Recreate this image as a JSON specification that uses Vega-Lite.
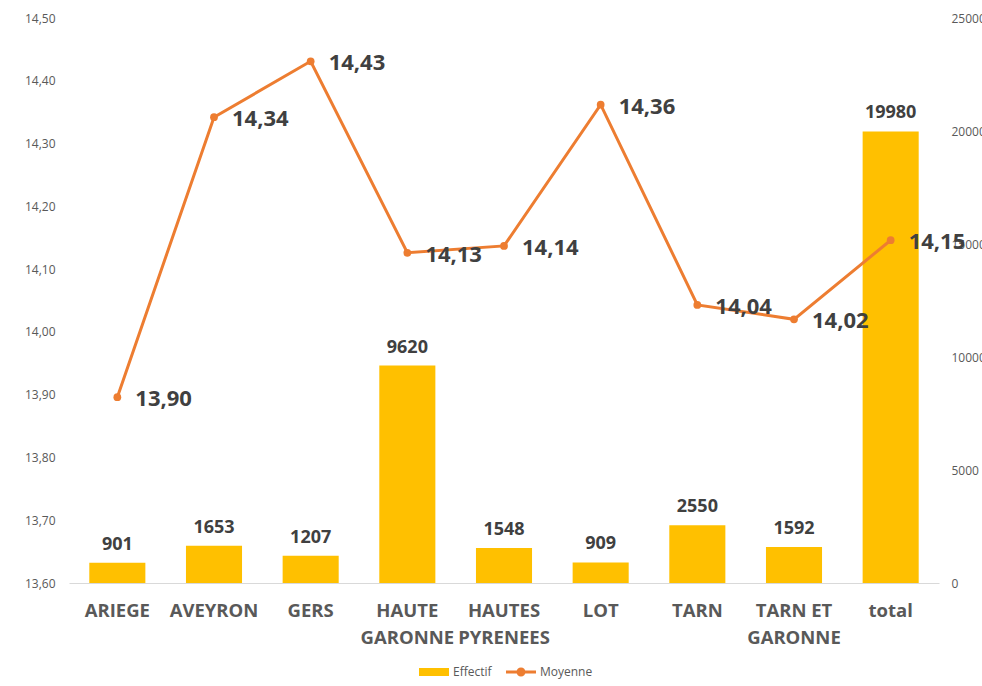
{
  "$schema": "https://vega.github.io/schema/vega-lite/v6.json",
  "width": 870,
  "height": 565,
  "autosize": {"type": "none"},
  "padding": {"left": 69, "top": 18, "right": 43, "bottom": 103},
  "background": "white",
  "config": {
    "view": {"stroke": null},
    "font": "Open Sans",
    "locale": {"number": {"decimal": ",", "thousands": " ", "grouping": [3], "currency": ["", " €"]}}
  },
  "data": {
    "values": [
      {"dep": "ARIEGE", "effectif": 901, "moyenne": 13.896},
      {"dep": "AVEYRON", "effectif": 1653, "moyenne": 14.342},
      {"dep": "GERS", "effectif": 1207, "moyenne": 14.431},
      {"dep": "HAUTE GARONNE", "effectif": 9620, "moyenne": 14.126},
      {"dep": "HAUTES PYRENEES", "effectif": 1548, "moyenne": 14.137},
      {"dep": "LOT", "effectif": 909, "moyenne": 14.362},
      {"dep": "TARN", "effectif": 2550, "moyenne": 14.043},
      {"dep": "TARN ET GARONNE", "effectif": 1592, "moyenne": 14.02},
      {"dep": "total", "effectif": 19980, "moyenne": 14.146}
    ]
  },
  "encoding": {
    "x": {
      "field": "dep",
      "type": "nominal",
      "sort": null,
      "scale": {"paddingInner": 0.42, "paddingOuter": 0.21},
      "axis": {
        "title": null,
        "labelAngle": 0,
        "ticks": false,
        "grid": false,
        "domainColor": "#D9D9D9",
        "domainWidth": 1,
        "labelPadding": 18,
        "labelFont": "Open Sans",
        "labelFontSize": 18.5,
        "labelFontWeight": "bold",
        "labelColor": "#595959",
        "labelLineHeight": 27,
        "labelExpr": "datum.value == 'HAUTE GARONNE' ? ['HAUTE', 'GARONNE'] : datum.value == 'HAUTES PYRENEES' ? ['HAUTES', 'PYRENEES'] : datum.value == 'TARN ET GARONNE' ? ['TARN ET', 'GARONNE'] : datum.value"
      }
    }
  },
  "layer": [
    {
      "encoding": {
        "y": {
          "field": "effectif",
          "type": "quantitative",
          "scale": {"domain": [0, 25000], "nice": false},
          "axis": {
            "orient": "right",
            "title": null,
            "values": [0, 5000, 10000, 15000, 20000, 25000],
            "format": "d",
            "domain": false,
            "ticks": false,
            "grid": false,
            "labelPadding": 12,
            "labelFontSize": 12,
            "labelColor": "#595959"
          }
        }
      },
      "layer": [
        {
          "mark": {"type": "bar"},
          "encoding": {
            "color": {
              "datum": "Effectif",
              "type": "nominal",
              "scale": {"domain": ["Effectif", "Moyenne"], "range": ["#FFC000", "#ED7D31"]},
              "legend": {
                "title": null,
                "orient": "none",
                "direction": "horizontal",
                "legendX": 359,
                "legendY": 648,
                "symbolSize": 100,
                "labelOffset": 13,
                "columnPadding": 14,
                "labelFontSize": 12,
                "labelColor": "#595959",
                "labelFont": "Open Sans",
                "encode": {
                  "symbols": {
                    "update": {
                      "shape": [
                        {"test": "datum.value == 'Effectif'", "value": "M-3,-0.8H3V0.8H-3Z"},
                        {"value": "M-3,-0.3H3V0.3H-3Z M0.9,0A0.9,0.9 0 1,1 -0.9,0A0.9,0.9 0 1,1 0.9,0Z"}
                      ],
                      "fill": [
                        {"test": "datum.value == 'Effectif'", "value": "#FFC000"},
                        {"value": "#ED7D31"}
                      ],
                      "stroke": {"value": "transparent"},
                      "strokeWidth": {"value": 0},
                      "opacity": {"value": 1},
                      "fillOpacity": {"value": 1}
                    }
                  }
                }
              }
            }
          }
        },
        {
          "mark": {"type": "text", "baseline": "alphabetic", "dy": -13, "font": "Open Sans", "fontSize": 18, "fontWeight": "bold", "color": "#404040"},
          "encoding": {"text": {"field": "effectif", "type": "quantitative", "format": "d"}}
        }
      ]
    },
    {
      "encoding": {
        "y": {
          "field": "moyenne",
          "type": "quantitative",
          "scale": {"domain": [13.6, 14.5], "nice": false, "zero": false},
          "axis": {
            "orient": "left",
            "title": null,
            "values": [13.6, 13.7, 13.8, 13.9, 14.0, 14.1, 14.2, 14.3, 14.4, 14.5],
            "format": ".2f",
            "domain": false,
            "ticks": false,
            "grid": false,
            "labelPadding": 14,
            "labelFontSize": 12,
            "labelColor": "#595959"
          }
        }
      },
      "layer": [
        {
          "mark": {"type": "line", "strokeWidth": 3, "point": {"filled": true, "size": 60}},
          "encoding": {
            "color": {"datum": "Moyenne", "type": "nominal"}
          }
        },
        {
          "mark": {"type": "text", "align": "left", "baseline": "middle", "dx": 18, "dy": 2, "font": "Open Sans", "fontSize": 22, "fontWeight": "bold", "color": "#404040"},
          "encoding": {"text": {"field": "moyenne", "type": "quantitative", "format": ".2f"}}
        }
      ]
    }
  ],
  "resolve": {"scale": {"y": "independent"}}
}
